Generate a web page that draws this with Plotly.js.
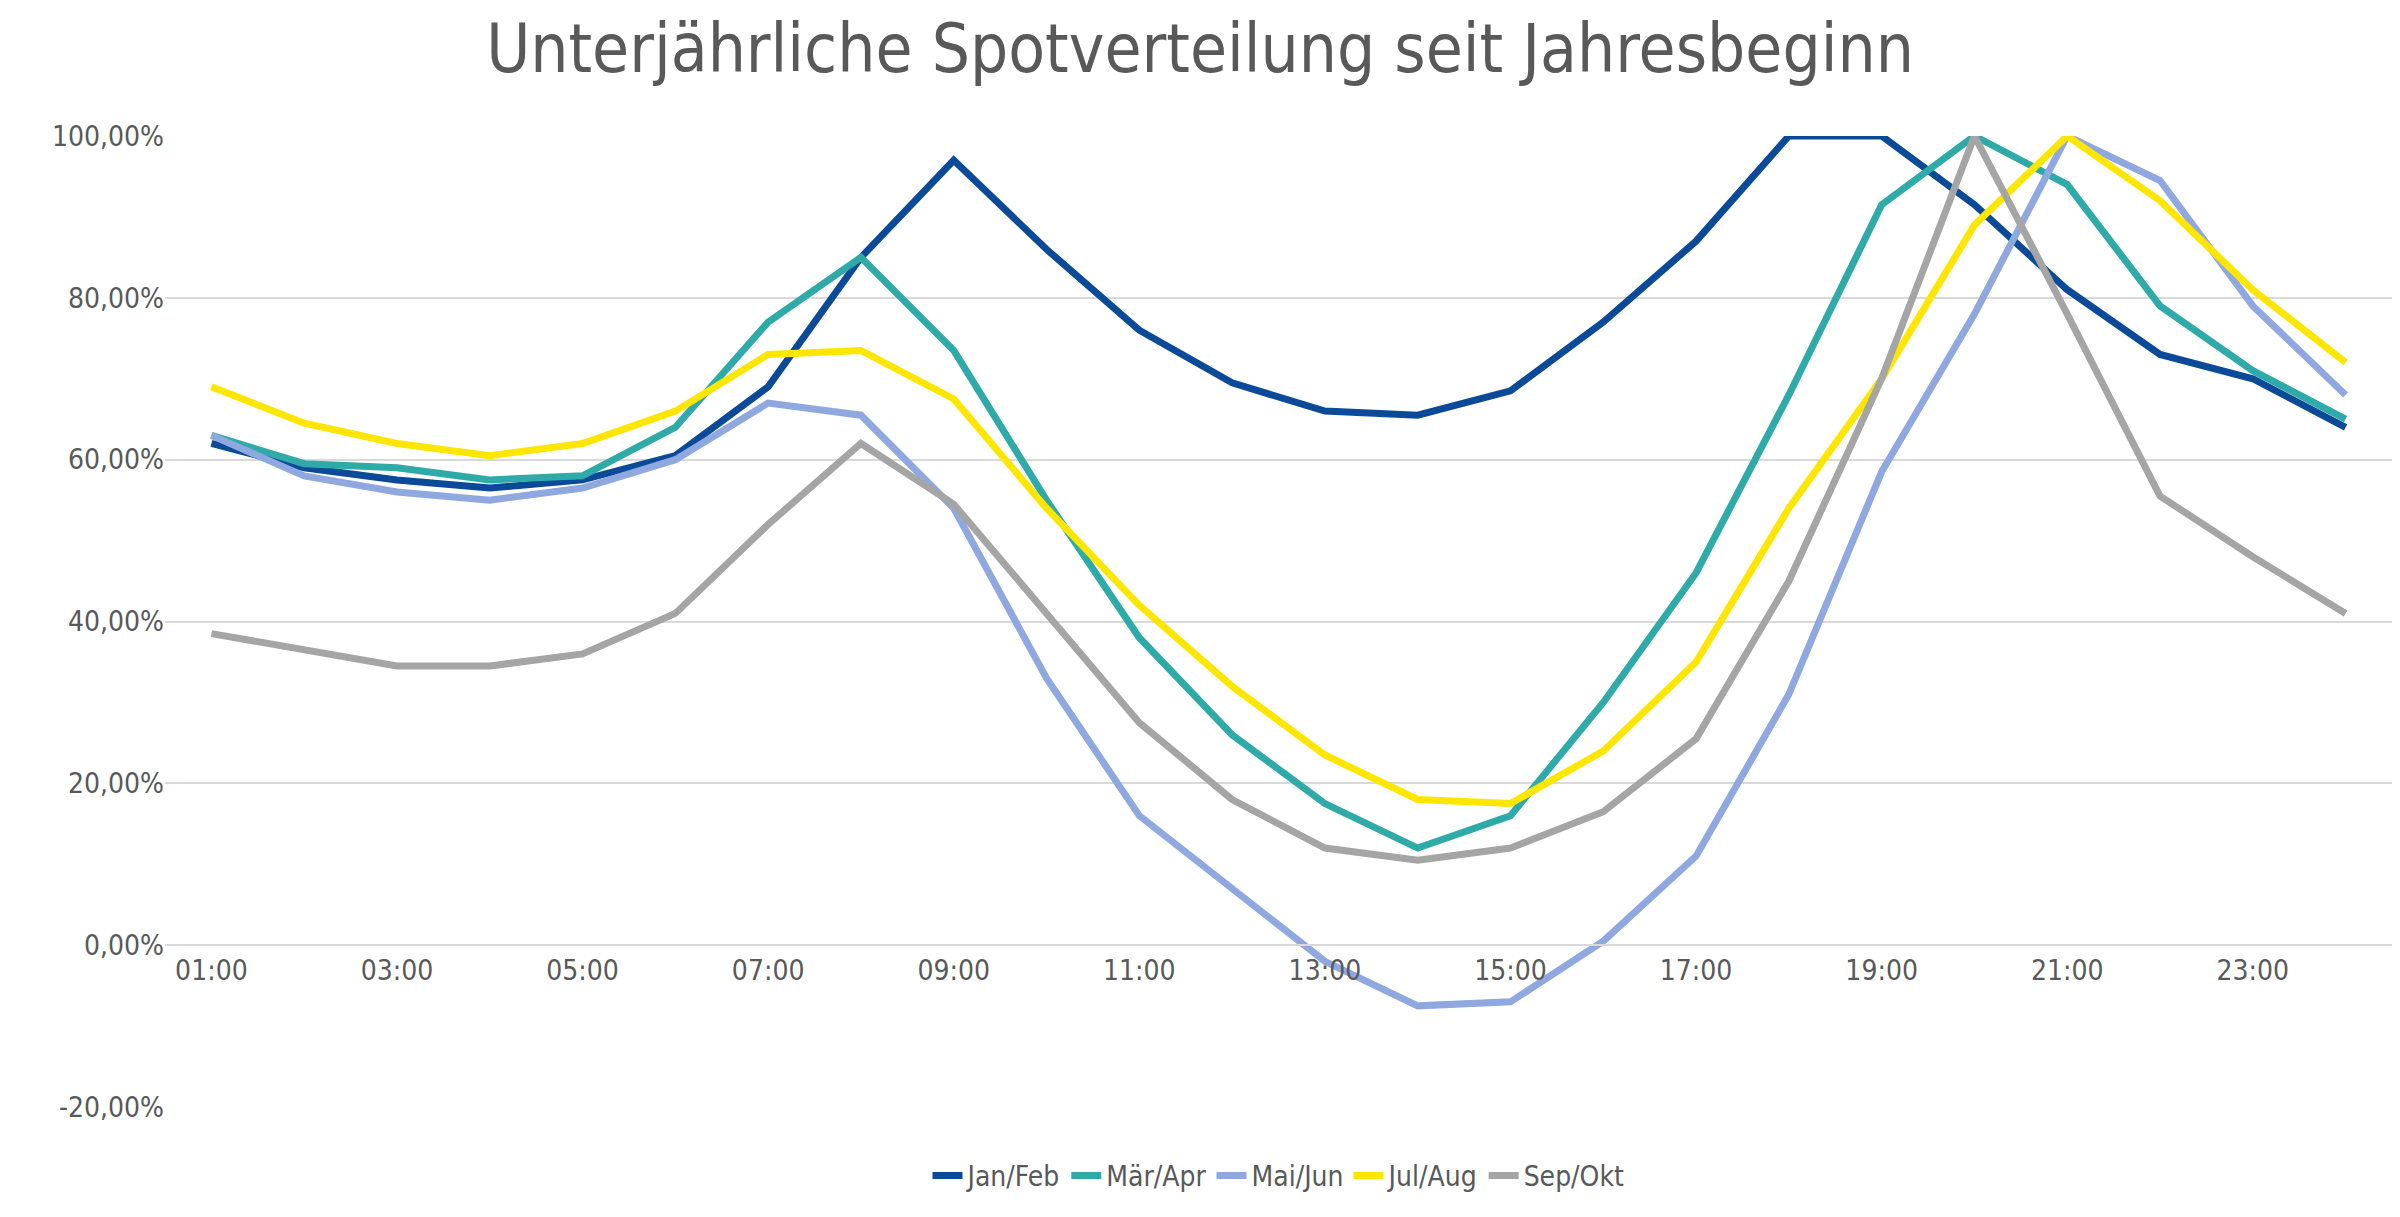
<!DOCTYPE html>
<html><head><meta charset="utf-8">
<script src="https://cdn.plot.ly/plotly-3.0.1.min.js"></script>
<style>body{margin:0;background:#fff}#c{width:2400px;height:1217px}</style>
</head><body><div id="c"></div>
<script>
const hours = ["01:00","02:00","03:00","04:00","05:00","06:00","07:00","08:00","09:00","10:00","11:00","12:00","13:00","14:00","15:00","16:00","17:00","18:00","19:00","20:00","21:00","22:00","23:00","24:00"];
const tickLabels = ["01:00","03:00","05:00","07:00","09:00","11:00","13:00","15:00","17:00","19:00","21:00","23:00"];
const yTickVals = [-20,0,20,40,60,80,100];
const yTickText = ["-20,00%","0,00%","20,00%","40,00%","60,00%","80,00%","100,00%"];
const janFeb = [62,59,57.5,56.5,57.5,60.5,69,85,97,86,76,69.5,66,65.5,68.5,77,87,100,100,91.5,81,73,70,64];
const marApr = [63,59.5,59,57.5,58,64,77,85,73.5,55,38,26,17.5,12,16,30,46,68,91.5,100,94,79,71,65];
const maiJun = [63,58,56,55,56.5,60,67,65.5,54,33,16,7,-2,-7.5,-7,0.5,11,31,58.5,78,100,94.5,79,68];
const julAug = [69,64.5,62,60.5,62,66,73,73.5,67.5,54,42,32,23.5,18,17.5,24,35,54,70,89,100,92,81,72];
const sepOkt = [38.5,36.5,34.5,34.5,36,41,52,62,54.5,41,27.5,18,12,10.5,12,16.5,25.5,45,70,100,78,55.5,48,41];
const series = [["Jan/Feb",janFeb,"#0b4a99"],["Mär/Apr",marApr,"#2eaaa8"],["Mai/Jun",maiJun,"#8fa8e0"],["Jul/Aug",julAug,"#ffe600"],["Sep/Okt",sepOkt,"#a5a5a5"]];
const traces = series.map(s=>({x:hours,y:s[1],name:s[0],type:"scatter",mode:"lines",line:{color:s[2],width:7},hoverinfo:"none"}));
const f = {family:"DejaVu Sans Condensed, DejaVu Sans, sans-serif",color:"#595959",size:28};
Plotly.newPlot("c",traces,{
  width:2400,height:1217,
  font:f,paper_bgcolor:"#fff",plot_bgcolor:"#fff",
  margin:{l:165,r:8,t:136,b:110},
  title:{text:"Unterjährliche Spotverteilung seit Jahresbeginn",font:{family:"DejaVu Sans Condensed, sans-serif",size:67,color:"#595959"},x:0.5,xanchor:"center",y:0.96,yanchor:"middle"},
  xaxis:{type:"category",tickvals:tickLabels,ticktext:tickLabels,range:[-0.5,23.5],showgrid:false,showline:true,linecolor:"#d9d9d9",linewidth:2,ticks:"",zeroline:false,tickfont:f,anchor:"free",position:20/120},
  yaxis:{range:[-20,100],tickvals:yTickVals,ticktext:yTickText,gridcolor:"#d9d9d9",gridwidth:2,zeroline:false,showline:false,tickfont:f},
  legend:{orientation:"h",x:0.5,xanchor:"center",y:-0.045,yanchor:"top",font:f},
  showlegend:true
},{staticPlot:true});
</script></body></html>
